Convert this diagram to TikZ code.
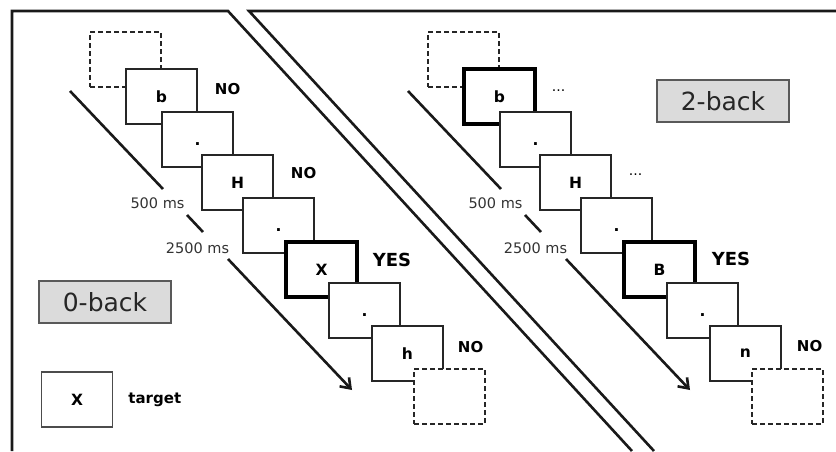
\documentclass[tikz,border=0pt]{standalone}
\usepackage{fontspec}
\setmainfont{DejaVu Sans}
\usetikzlibrary{positioning,arrows.meta}

\newcommand{\fixdot}{\vphantom{b}.}

\tikzset{
  stim/.style={draw=black!85, line width=1.5pt, fill=white,
    minimum width=71pt, minimum height=55pt, inner sep=0pt,
    font=\bfseries\fontsize{15.5}{16}\selectfont},
  stimhit/.style={draw=black, line width=3.4pt, fill=white,
    minimum width=71pt, minimum height=55pt, inner sep=0pt,
    font=\bfseries\fontsize{15.5}{16}\selectfont},
  stimblank/.style={stim, dash pattern=on 5pt off 3pt, line width=1.7pt},
  answer/.style={inner sep=0pt, font=\bfseries\fontsize{15}{16}\selectfont},
  bigans/.style={inner sep=0pt, font=\bfseries\fontsize{18}{19}\selectfont},
  dots/.style={inner sep=0pt, text=black, font=\fontsize{14}{14}\selectfont},
  mslabel/.style={inner sep=0pt, text=black!80, font=\fontsize{14.5}{15}\selectfont},
  cond/.style={draw=black!65, fill=black!14, line width=1.6pt,
    minimum width=132pt, minimum height=42pt, inner sep=0pt,
    text=black!85, font=\fontsize{25}{27}\selectfont},
  timeline/.style={line width=2.6pt, black!90},
  rule/.style={line width=2.6pt, black!90}
}

\begin{document}
\begin{tikzpicture}[x=1pt, y=-1pt]
    \useasboundingbox (0,0) rectangle (836,451);

    % 1. Frames of the two panels
    \draw[rule] (12,451) -- (12,11) -- (228,11) -- (632,451);
    \draw[rule] (654,451) -- (249,11) -- (836,11);

    % 2. Stimulus sequence (left: 0-back, right: 2-back)
    \foreach \i/\x/\y/\sl/\tl/\sr/\tr in {
        0/125.5/59.5/stimblank/{}/stimblank/{},
        1/161.5/96.5/stim/b/stimhit/b,
        2/197.5/139.5/stim/\fixdot/stim/\fixdot,
        3/237.5/182.5/stim/H/stim/H,
        4/278.5/225.5/stim/\fixdot/stim/\fixdot,
        5/321.5/269.5/stimhit/X/stimhit/B,
        6/364.5/310.5/stim/\fixdot/stim/\fixdot,
        7/407.5/353.5/stim/h/stim/n,
        8/449.5/396.5/stimblank/{}/stimblank/{}} {
        \node[style=\sl] (L\i) at (\x,\y) {\tl};
        \node[style=\sr] (R\i) at (\x+338,\y) {\tr};
    }

    % 3. Responses
    \node[answer, right=17pt of L1, yshift=7.5pt] (noL1) {NO};
    \node[answer, right=17pt of L3, yshift=9.5pt] (noL3) {NO};
    \node[bigans, right=14pt of L5, yshift=10pt] (yesL5) {YES};
    \node[answer, right=14pt of L7, yshift=6.5pt] (noL7) {NO};

    \node[dots, right=15pt of R1, yshift=5.5pt] (moreR1) {...};
    \node[dots, right=17pt of R3, yshift=7.5pt] (moreR3) {...};
    \node[bigans, right=15pt of R5, yshift=11pt] (yesR5) {YES};
    \node[answer, right=15pt of R7, yshift=7.5pt] (noR7) {NO};

    % 4. Time axis
    \foreach \s/\p in {0/L, 338/R} {
        \path (70+\s,91)   coordinate (\p tA)
              (163+\s,189) coordinate (\p tB)
              (187+\s,215) coordinate (\p tC)
              (203+\s,232) coordinate (\p tD)
              (228+\s,259) coordinate (\p tE)
              (352+\s,390) coordinate (\p tF);
        \node[mslabel] (\p short) at (157.5+\s,203) {500 ms};
        \node[mslabel] (\p long) at (197.5+\s,248) {2500 ms};
        \draw[timeline] (\p tA) -- (\p tB);
        \draw[timeline] (\p tC) -- (\p tD);
        \draw[timeline, -{Straight Barb[length=9pt, width=13pt]}] (\p tE) -- (\p tF);
    }

    % 5. Task names and key
    \node[cond] (zero) at (105,302) {0-back};
    \node[cond] (two) at (723,101) {2-back};
    \node[stim, draw=black!70] (key) at (77,399.5) {X};
    \node[answer, right=15pt of key] (keytext) {target};
\end{tikzpicture}
\end{document}
